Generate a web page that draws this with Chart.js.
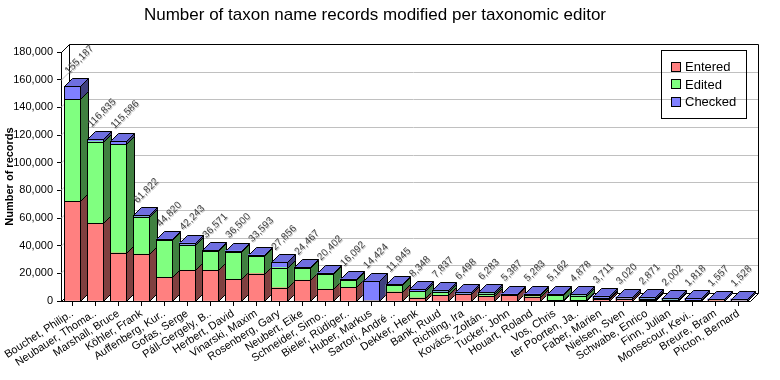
<!DOCTYPE html>
<html><head><meta charset="utf-8">
<script src="https://cdn.jsdelivr.net/npm/chart.js@4.4.0/dist/chart.umd.min.js"></script>
<style>html,body{margin:0;padding:0;background:#fff}</style>
</head><body>
<canvas id="c" width="780" height="380" style="width:780px;height:380px;display:block"></canvas>
<script>
const editors = ["Bouchet, Philip..","Neubauer, Thoma..","Marshall, Bruce","Köhler, Frank","Auffenberg, Kur..","Gofas, Serge","Páll-Gergely, B..","Herbert, David","Vinarski, Maxim","Rosenberg, Gary","Neubert, Eike","Schneider, Simo..","Bieler, Rüdiger..","Huber, Markus","Sartori, André ..","Dekker, Henk","Bank, Ruud","Richling, Ira","Kovács, Zoltán..","Tucker, John","Houart, Roland","Vos, Chris","ter Poorten, Ja..","Faber, Marien","Nielsen, Sven","Schwabe, Enrico","Finn, Julian","Monsecour, Kevi..","Breure, Bram","Picton, Bernard"];
const entered = [72000,56200,34700,33800,17100,22200,22200,15700,19800,9600,15000,8500,9900,0,6500,2200,4100,4800,3400,4100,2900,500,500,1200,1400,800,0,400,300,0];
const edited  = [73800,59000,78600,26900,26800,18200,13700,19700,12500,14600,9000,11000,5100,0,4800,4800,2400,200,1900,0,1200,3600,3300,800,0,600,800,100,0,0];
const checked = [9387,1635,2286,1122,920,1843,671,1100,1293,3656,467,902,1092,14424,645,1348,1337,1498,983,1287,1183,1062,1078,1711,1620,1471,1202,1318,1257,1528];
const totals  = [155187,116835,115586,61822,44820,42243,36571,36500,33593,27856,24467,20402,16092,14424,11945,8348,7837,6498,6283,5387,5283,5162,4878,3711,3020,2871,2002,1818,1557,1528];
const yTicks  = [0,20000,40000,60000,80000,100000,120000,140000,160000,180000];
const seriesNames = ["Entered","Edited","Checked"];

const FONT = "'Liberation Sans', Arial, sans-serif";
const frontColors = ['#FF8080','#80FF80','#8080FF'];
const sideColors  = ['#804040','#408040','#40407F'];
const topColors   = ['#E07070','#70E070','#6F6FE0'];
const D = 8;

const threeD = {
  id: 'threeD',
  beforeDatasetsDraw(chart) {
    const ctx = chart.ctx, a = chart.chartArea, ys = chart.scales.y;
    const L = a.left, R = a.right, T = a.top, B = a.bottom;
    ctx.save();
    ctx.lineWidth = 1;
    ctx.strokeStyle = '#C0C0C0';
    yTicks.forEach(v => {
      if (v === 0 || v === yTicks[yTicks.length-1]) return;
      const y = Math.round(ys.getPixelForValue(v)) + 0.5;
      ctx.beginPath();
      ctx.moveTo(L, y); ctx.lineTo(L + D, y - D); ctx.lineTo(R + D, y - D);
      ctx.stroke();
    });
    ctx.strokeStyle = '#000';
    const t = Math.round(T) + 0.5, b = Math.round(B) + 0.5, l = Math.round(L) + 0.5, r = Math.round(R) + 0.5;
    ctx.beginPath();
    ctx.moveTo(l, t); ctx.lineTo(l + D, t - D); ctx.lineTo(r + D, t - D); ctx.lineTo(r + D, b - D);
    ctx.moveTo(l + D, t - D); ctx.lineTo(l + D, b - D);
    ctx.moveTo(l, b); ctx.lineTo(r, b); ctx.lineTo(r + D, b - D); ctx.lineTo(l + D, b - D); ctx.closePath();
    ctx.stroke();
    const metas = [0,1,2].map(i => chart.getDatasetMeta(i));
    const n = editors.length;
    for (let k = 0; k < n; k++) {
      let topIdx = -1;
      for (let s = 0; s < 3; s++) {
        const v = chart.data.datasets[s].data[k];
        if (!v) continue;
        topIdx = s;
        const el = metas[s].data[k];
        const xr = Math.round(el.x + el.width/2) + 0.5;
        const yt = Math.round(el.y) + 0.5, yb = Math.round(el.base) + 0.5;
        ctx.beginPath();
        ctx.moveTo(xr, yt); ctx.lineTo(xr + D, yt - D); ctx.lineTo(xr + D, yb - D); ctx.lineTo(xr, yb); ctx.closePath();
        ctx.fillStyle = sideColors[s]; ctx.fill(); ctx.stroke();
      }
      if (topIdx >= 0) {
        const el = metas[topIdx].data[k];
        const xl = Math.round(el.x - el.width/2) + 0.5, xr = Math.round(el.x + el.width/2) + 0.5;
        const yt = Math.round(el.y) + 0.5;
        ctx.beginPath();
        ctx.moveTo(xl, yt); ctx.lineTo(xl + D, yt - D); ctx.lineTo(xr + D, yt - D); ctx.lineTo(xr, yt); ctx.closePath();
        ctx.fillStyle = topColors[topIdx]; ctx.fill(); ctx.stroke();
      }
    }
    ctx.restore();
  },
  afterDatasetsDraw(chart) {
    const ctx = chart.ctx, ys = chart.scales.y;
    const metas = [0,1,2].map(i => chart.getDatasetMeta(i));
    ctx.save();
    ctx.lineWidth = 1; ctx.strokeStyle = '#000';
    for (let k = 0; k < editors.length; k++) {
      for (let s = 0; s < 3; s++) {
        const v = chart.data.datasets[s].data[k];
        if (!v) continue;
        const el = metas[s].data[k];
        const xl = Math.round(el.x - el.width/2) + 0.5, xr = Math.round(el.x + el.width/2) + 0.5;
        const yt = Math.round(el.y) + 0.5, yb = Math.round(el.base) + 0.5;
        ctx.strokeRect(xl, yt, xr - xl, yb - yt);
      }
    }
    ctx.font = '10px ' + FONT;
    ctx.fillStyle = '#444';
    ctx.textAlign = 'left'; ctx.textBaseline = 'alphabetic';
    ctx.shadowColor = 'rgba(0,0,0,0.25)'; ctx.shadowOffsetX = 1; ctx.shadowOffsetY = 1; ctx.shadowBlur = 0;
    for (let k = 0; k < editors.length; k++) {
      const x = metas[2].data[k].x;
      const y = ys.getPixelForValue(totals[k]);
      ctx.save();
      ctx.translate(x - 4, y - 12);
      ctx.rotate(-Math.PI / 4);
      ctx.fillText(totals[k].toLocaleString('en-US'), 0, 0);
      ctx.restore();
    }
    ctx.restore();
  },
  afterDraw(chart) {
    const ctx = chart.ctx;
    ctx.save();
    ctx.strokeStyle = '#000'; ctx.lineWidth = 1;
    ctx.strokeRect(661.5, 50.5, 85, 68);
    ctx.font = '13px ' + FONT;
    ctx.textBaseline = 'middle'; ctx.textAlign = 'left';
    seriesNames.forEach((name, i) => {
      const cy = 66.5 + i * 17.5;
      ctx.fillStyle = frontColors[i];
      ctx.fillRect(671.5, Math.round(cy - 5) + 0.5, 9, 9);
      ctx.strokeRect(671.5, Math.round(cy - 5) + 0.5, 9, 9);
      ctx.fillStyle = '#000';
      ctx.fillText(name, 685, cy + 1);
    });
    ctx.restore();
  }
};

new Chart(document.getElementById('c'), {
  type: 'bar',
  data: {
    labels: editors,
    datasets: [
      { label: seriesNames[0], data: entered, backgroundColor: frontColors[0] },
      { label: seriesNames[1], data: edited, backgroundColor: frontColors[1] },
      { label: seriesNames[2], data: checked, backgroundColor: frontColors[2] }
    ]
  },
  options: {
    responsive: false,
    animation: false,
    devicePixelRatio: 1,
    layout: { padding: { left: 0, right: 30, top: 0, bottom: 0 } },
    datasets: { bar: { barThickness: 16, borderWidth: 0 } },
    plugins: {
      legend: { display: false },
      tooltip: { enabled: false },
      title: {
        display: true,
        text: 'Number of taxon name records modified per taxonomic editor',
        color: '#000',
        font: { family: FONT, size: 17, weight: 'normal' },
        padding: { top: 5, bottom: 26.6 }
      }
    },
    scales: {
      x: {
        stacked: true,
        grid: { display: true, drawOnChartArea: false, drawTicks: true, tickLength: 5, color: '#000', offset: false },
        border: { display: false },
        ticks: { autoSkip: false, maxRotation: 33, minRotation: 33, color: '#000', font: { family: FONT, size: 11 }, padding: 1 },
        afterFit(scale) { scale.height = 79; scale.paddingLeft = 0; scale.paddingRight = 0; }
      },
      y: {
        stacked: true,
        min: 0, max: 180000,
        afterBuildTicks(scale) { scale.ticks = yTicks.map(v => ({ value: v })); },
        grid: { display: true, drawOnChartArea: false, drawTicks: true, tickLength: 4, color: '#000' },
        border: { display: true, color: '#000' },
        ticks: { color: '#000', font: { family: FONT, size: 11 }, padding: 4,
                 callback: v => v.toLocaleString('en-US') },
        title: { display: true, text: 'Number of records', color: '#000', font: { family: FONT, size: 11, weight: 'bold' }, padding: { top: 3, bottom: 0 } },
        afterFit(scale) { scale.width = 61; }
      }
    }
  },
  plugins: [threeD]
});
</script>
</body></html>
